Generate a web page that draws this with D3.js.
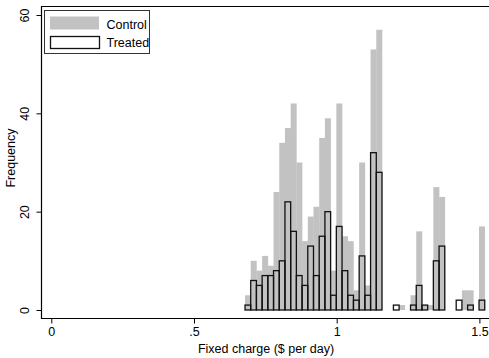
<!DOCTYPE html>
<html>
<head>
<meta charset="utf-8">
<script src="https://cdn.jsdelivr.net/npm/d3@7"></script>
<style>
  body { margin: 0; background: #fff; }
  text { font-family: "Liberation Sans", Arial, Helvetica, sans-serif; fill: #000; }
</style>
</head>
<body>
<div id="chart"></div>
<script>
// histogram bins (width .02, first bin starts at ~.679)
var binStart = 0.6787;
var binWidth = 0.02;

var control = [3, 10, 8, 11, 9, 24, 34, 37, 42, 30, 14, 19, 21, 35, 39, 8, 42, 15, 14, 4,
               30, 5, 53, 57, 0, 0, 0, 1, 0, 3, 16, 1, 1, 25, 23, 0, 0, 0, 4, 4, 0, 17];
var treated = [1, 6, 5, 7, 7, 8, 10, 22, 16, 7, 5, 13, 7, 15, 20, 3, 17, 8, 3, 2,
               11, 3, 32, 28, 0, 0, 1, 0, 0, 1, 5, 1, 0, 10, 13, 0, 0, 2, 0, 1, 0, 2];

var xTicks = [0, 0.5, 1, 1.5];
var xTickLabels = ["0", ".5", "1", "1.5"];
var yTicks = [0, 20, 40, 60];
var legendLabels = ["Control", "Treated"];

var width = 489, height = 358;
var grayFill = "#c2c2c2";

var svg = d3.select("#chart").append("svg")
  .attr("width", width)
  .attr("height", height)
  .style("display", "block");

svg.append("rect").attr("width", width).attr("height", height).attr("fill", "#fff");

var plotLeft = 41, plotTop = 6, plotBottom = 318;

var x = d3.scaleLinear().domain([0, 1.5]).range([51.3, 479.4]);
var y = d3.scaleLinear().domain([0, 60]).range([310, 15]);

/* bars */
var bins = control.map(function(c, i) {
  return { x0: binStart + i * binWidth, c: c, t: treated[i] };
});
var bw = x(binWidth) - x(0);

svg.append("g").selectAll("rect")
  .data(bins.filter(function(d) { return d.c > 0; }))
  .enter().append("rect")
  .attr("x", function(d) { return x(d.x0); })
  .attr("y", function(d) { return y(d.c); })
  .attr("width", bw + 0.3)
  .attr("height", function(d) { return y(0) - y(d.c); })
  .attr("fill", grayFill);

svg.append("g").selectAll("rect")
  .data(bins.filter(function(d) { return d.t > 0; }))
  .enter().append("rect")
  .attr("x", function(d) { return x(d.x0); })
  .attr("y", function(d) { return y(d.t); })
  .attr("width", bw)
  .attr("height", function(d) { return y(0) - y(d.t); })
  .attr("fill", "none")
  .attr("stroke", "#111")
  .attr("stroke-width", 1.3);

/* frame */
svg.append("path")
  .attr("d", "M" + width + "," + (plotTop + 0.5) + "H" + (plotLeft + 0.5) + "V" + (plotBottom + 0.5) + "H" + width)
  .attr("fill", "none")
  .attr("stroke", "#000")
  .attr("stroke-width", 1.2);

/* axes */
var xAxis = d3.axisBottom(x)
  .tickValues(xTicks)
  .tickSize(5)
  .tickPadding(4)
  .tickFormat(function(d, i) { return xTickLabels[i]; });

var gx = svg.append("g")
  .attr("transform", "translate(0," + (plotBottom + 0.5) + ")")
  .call(xAxis);
gx.select(".domain").remove();
gx.selectAll("line").attr("stroke", "#000");
gx.selectAll("text").style("font-size", "12.5px").attr("font-family", null);

var yAxis = d3.axisLeft(y).tickValues(yTicks).tickSize(5);
var gy = svg.append("g")
  .attr("transform", "translate(" + (plotLeft + 0.5) + ",0)")
  .call(yAxis);
gy.select(".domain").remove();
gy.selectAll("line").attr("stroke", "#000");
gy.selectAll("text")
  .attr("x", 0).attr("y", 0).attr("dy", null)
  .attr("text-anchor", "middle")
  .attr("font-family", null)
  .style("font-size", "12.5px")
  .attr("transform", "translate(-13,0) rotate(-90)");

/* axis titles */
svg.append("text")
  .attr("x", 266)
  .attr("y", 353)
  .attr("text-anchor", "middle")
  .style("font-size", "12.5px")
  .text("Fixed charge ($ per day)");

svg.append("text")
  .attr("transform", "translate(15," + ((plotTop + plotBottom) / 2 - 4) + ") rotate(-90)")
  .attr("text-anchor", "middle")
  .style("font-size", "12.5px")
  .text("Frequency");

/* legend */
var lg = svg.append("g");
lg.append("rect")
  .attr("x", 44.5).attr("y", 10.5)
  .attr("width", 105).attr("height", 43)
  .attr("fill", "#fff")
  .attr("stroke", "#333")
  .attr("stroke-width", 1);
lg.append("rect")
  .attr("x", 50).attr("y", 16.5)
  .attr("width", 49).attr("height", 13)
  .attr("fill", grayFill);
lg.append("rect")
  .attr("x", 50.5).attr("y", 36.5)
  .attr("width", 49).attr("height", 12)
  .attr("fill", "#fff")
  .attr("stroke", "#111")
  .attr("stroke-width", 1.3);
lg.selectAll("text.lab")
  .data(legendLabels)
  .enter().append("text")
  .attr("class", "lab")
  .attr("x", 106.5)
  .attr("y", function(d, i) { return 28.5 + i * 18.5; })
  .style("font-size", "12.5px")
  .text(function(d) { return d; });
</script>
</body>
</html>
